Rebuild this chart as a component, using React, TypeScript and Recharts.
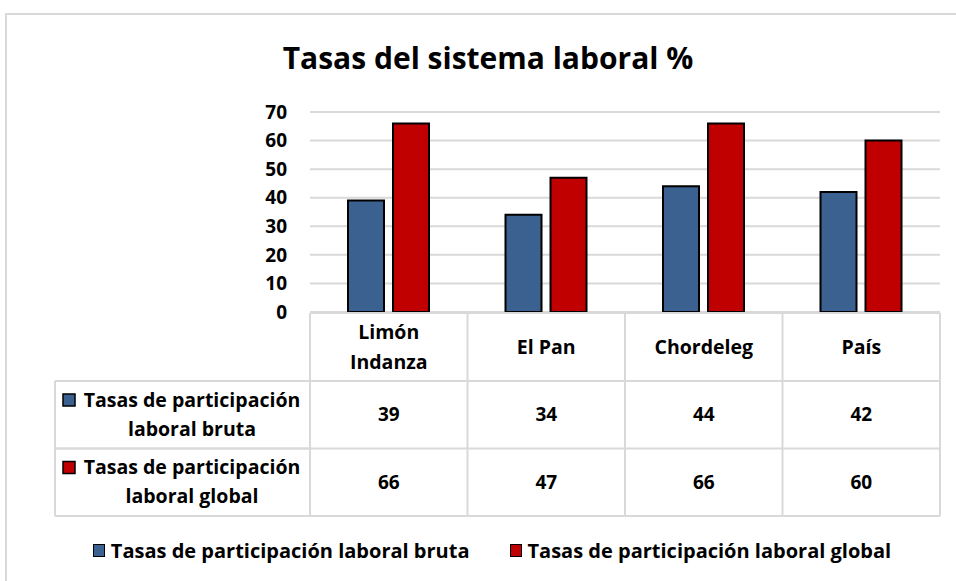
import { BarChart, Bar, XAxis, YAxis, CartesianGrid, Legend } from "recharts";

const categories = ["Limón Indanza", "El Pan", "Chordeleg", "País"];
const bruta = [39, 34, 44, 42];
const globalRate = [66, 47, 66, 60];
const seriesNames = [
  "Tasas de participación laboral bruta",
  "Tasas de participación laboral global",
];
const seriesKeys = ["bruta", "global"];
const seriesColors = ["#3A6190", "#C00000"];
const yTicks = [0, 10, 20, 30, 40, 50, 60, 70];

const seriesValues = [bruta, globalRate];
const data = categories.map((name, i) => ({ name, bruta: bruta[i], global: globalRate[i] }));

const W = 956;
const H = 581;
const PLOT_LEFT = 310;
const PLOT_RIGHT = 16;
const Y_WIDTH = 60;
const BAND = (W - PLOT_LEFT - PLOT_RIGHT) / categories.length;
const HEAD_H = 68;
const ROW_H = 67.5;
const LABEL_W = 255;
const GRID = "#d9d9d9";
const FONT = "'Open Sans', Lato, sans-serif";

function splitHeader(s: string) {
  return s.length > 10 ? s.split(" ") : [s];
}

function splitLabel(s: string) {
  const w = s.split(" ");
  return [w.slice(0, 3).join(" "), w.slice(3).join(" ")];
}

// eslint-disable-next-line @typescript-eslint/no-explicit-any
function TableTick({ x, y, payload, index }: any) {
  const left = x - BAND / 2;
  const right = x + BAND / 2;
  const top = y + 1;
  const bottom = top + HEAD_H + ROW_H * seriesValues.length;
  const lines = splitHeader(String(payload.value));
  const textStyle = { fontSize: 19, fontWeight: 700, fill: "#000", fontFamily: FONT };
  const labelStyle = { ...textStyle, fontSize: 19.5 };
  return (
    <g>
      {/* column cells */}
      <line x1={left} x2={right} y1={top} y2={top} stroke={GRID} strokeWidth={2} />
      <line x1={right} x2={right} y1={top} y2={bottom} stroke={GRID} strokeWidth={2} />
      {index === 0 && <line x1={left} x2={left} y1={top} y2={bottom} stroke={GRID} strokeWidth={2} />}
      {seriesValues.map((_, r) => (
        <line key={r} x1={left} x2={right} y1={top + HEAD_H + ROW_H * (r + 1)} y2={top + HEAD_H + ROW_H * (r + 1)} stroke={GRID} strokeWidth={2} />
      ))}
      <line x1={left} x2={right} y1={top + HEAD_H} y2={top + HEAD_H} stroke={GRID} strokeWidth={2} />
      {lines.map((l, i) => (
        <text key={i} x={x} y={top + HEAD_H / 2 + (i - (lines.length - 1) / 2) * 30} dy="0.35em" textAnchor="middle" style={labelStyle}>
          {l}
        </text>
      ))}
      {seriesValues.map((vals, r) => (
        <text key={r} x={x} y={top + HEAD_H + ROW_H * r + ROW_H / 2} dy="0.35em" textAnchor="middle" style={textStyle}>
          {vals[index]}
        </text>
      ))}

      {/* row label column */}
      {index === 0 && (
        <g>
          <line x1={left - LABEL_W} x2={left - LABEL_W} y1={top + HEAD_H} y2={bottom} stroke={GRID} strokeWidth={2} />
          {seriesNames.map((name, r) => {
            const rowTop = top + HEAD_H + ROW_H * r;
            const [l1, l2] = splitLabel(name);
            return (
              <g key={name}>
                <line x1={left - LABEL_W} x2={left} y1={rowTop} y2={rowTop} stroke={GRID} strokeWidth={2} />
                <line x1={left - LABEL_W} x2={left} y1={rowTop + ROW_H} y2={rowTop + ROW_H} stroke={GRID} strokeWidth={2} />
                <rect x={left - LABEL_W + 8} y={rowTop + 13} width={12} height={12} fill={seriesColors[r]} stroke="#000" strokeWidth={1.5} />
                <text x={left - LABEL_W + 137} y={rowTop + ROW_H / 2 - 15} dy="0.35em" textAnchor="middle" style={labelStyle}>{l1}</text>
                <text x={left - LABEL_W + 137} y={rowTop + ROW_H / 2 + 14} dy="0.35em" textAnchor="middle" style={labelStyle}>{l2}</text>
              </g>
            );
          })}
        </g>
      )}
    </g>
  );
}

function LegendContent() {
  return (
    <div style={{ height: 26, display: "flex", justifyContent: "center", alignItems: "center", gap: 40, fontFamily: FONT, fontWeight: 700, fontSize: 20, color: "#000" }}>
      {seriesNames.map((name, i) => (
        <div key={name} style={{ display: "flex", alignItems: "center", gap: 6 }}>
          <span style={{ width: 10, height: 11, background: seriesColors[i], border: "1.5px solid #000", display: "inline-block" }} />
          <span>{name}</span>
        </div>
      ))}
    </div>
  );
}

export default function App() {
  return (
    <div style={{ position: "absolute", left: 0, top: 0, width: W, height: H, overflow: "hidden", background: "#fff", fontFamily: FONT }}>
      <div style={{ position: "absolute", left: 5, top: 13, width: 1000, height: 1000, border: `2px solid ${GRID}`, boxSizing: "border-box" }} />
      <div style={{ position: "absolute", left: 0, top: 37, width: W + 20, textAlign: "center", fontSize: 30, fontWeight: 700, color: "#000" }}>
        Tasas del sistema laboral %
      </div>
      <BarChart
        width={W}
        height={H}
        data={data}
        margin={{ top: 112, right: PLOT_RIGHT, left: PLOT_LEFT - Y_WIDTH, bottom: 40 }}
        barSize={36}
        barGap={9}
      >
        <CartesianGrid vertical={false} stroke={GRID} strokeWidth={2} />
        <YAxis
          domain={[0, 70]}
          ticks={yTicks}
          width={Y_WIDTH}
          axisLine={false}
          tickLine={false}
          tickSize={0}
          tickMargin={23}
          tick={{ fontSize: 19, fontWeight: 700, fill: "#000", fontFamily: FONT }}
        />
        <XAxis
          dataKey="name"
          height={203}
          axisLine={false}
          tickLine={false}
          tickSize={0}
          tickMargin={0}
          interval={0}
          tick={<TableTick />}
        />
        <Legend verticalAlign="bottom" content={<LegendContent />} wrapperStyle={{ left: 14, width: W, bottom: 18 }} />
        {seriesKeys.map((k, i) => (
          <Bar key={k} dataKey={k} name={seriesNames[i]} fill={seriesColors[i]} stroke="#000" strokeWidth={2} isAnimationActive={false} />
        ))}
      </BarChart>
    </div>
  );
}
